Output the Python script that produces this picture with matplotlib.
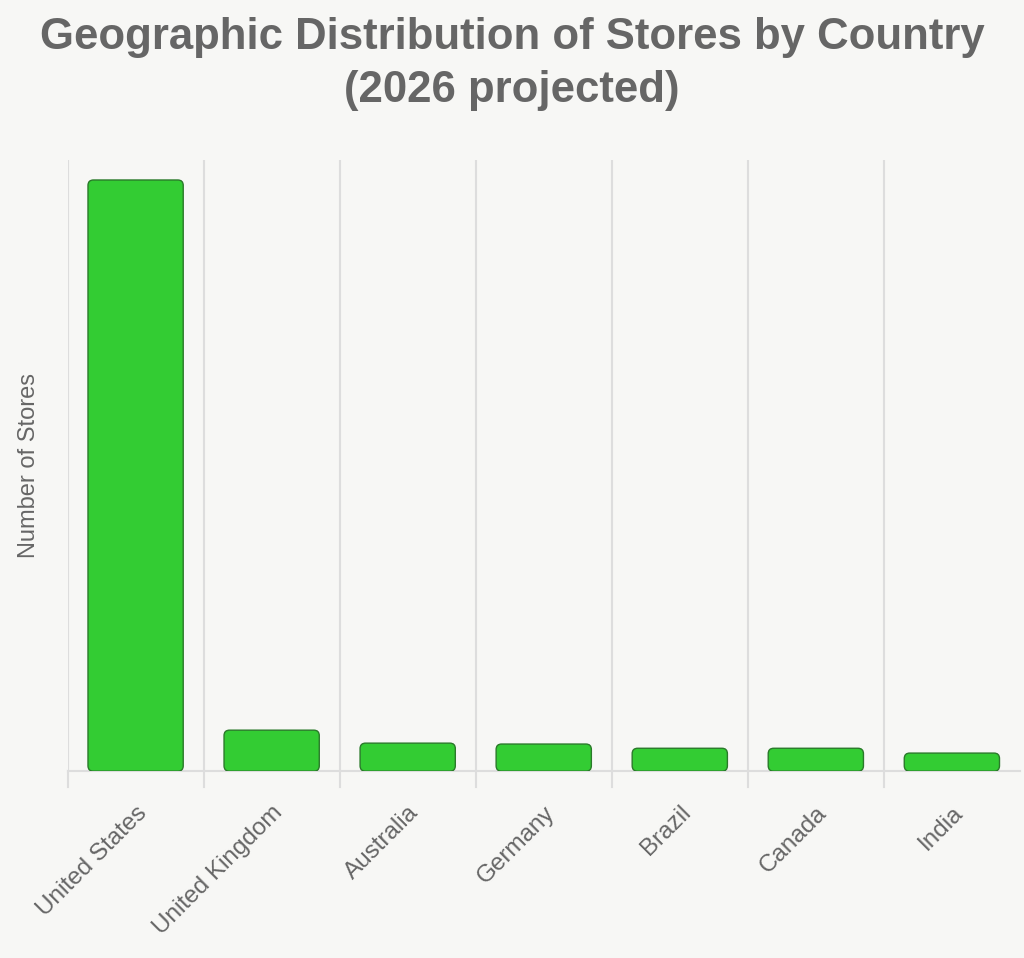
import matplotlib
matplotlib.use("Agg")
import matplotlib.pyplot as plt
from matplotlib.patches import FancyBboxPatch

plt.rcParams['font.family'] = ['Liberation Sans', 'DejaVu Sans']

countries = ["United States", "United Kingdom", "Australia", "Germany", "Brazil", "Canada", "India"]
stores = [9800, 680, 465, 450, 380, 380, 300]

bg = "#f7f7f5"
gray = "#666666"

fig = plt.figure(figsize=(10.24, 9.58), dpi=100, facecolor=bg)
ax = fig.add_axes([0.066, 0.195, 0.930, 0.638], facecolor=bg)

ymax = stores[0] * 611 / 591
ax.set_xlim(-0.5, len(countries) - 0.5)
ax.set_ylim(0, ymax)

# rounded bars
bars = ax.bar(range(len(countries)), stores, width=0.7, alpha=0)
aspect = (ymax / 611) / (1 / 136)
for b in bars:
    p = FancyBboxPatch((b.get_x(), 0), b.get_width(), b.get_height(),
                       boxstyle="round,pad=0,rounding_size=0.04",
                       mutation_aspect=aspect, facecolor="#33cc33",
                       edgecolor="#2a7a2a", linewidth=1, zorder=3)
    ax.add_patch(p)

# vertical grid lines at category boundaries
for i in range(len(countries)):
    ax.axvline(i - 0.5, color="#dddddd", linewidth=1.5, zorder=1)
    ax.plot([i - 0.5, i - 0.5], [0, -ymax * 16 / 611], color="#dddddd",
            linewidth=1.5, clip_on=False)

for s in ["top", "right", "left"]:
    ax.spines[s].set_visible(False)
ax.spines["bottom"].set_color("#dddddd")
ax.spines["bottom"].set_linewidth(1.5)

ax.set_yticks([])
ax.set_xticks(range(len(countries)))
ax.set_xticklabels(countries, rotation=45, ha="right", rotation_mode="anchor",
                   fontsize=17.5, color=gray)
ax.tick_params(axis="x", length=0, pad=22)
ax.set_ylabel("Number of Stores", fontsize=17, color=gray, labelpad=20)

fig.suptitle("Geographic Distribution of Stores by Country\n(2026 projected)",
             fontsize=31.5, fontweight="bold", color=gray, y=0.982,
             linespacing=1.38)

fig.savefig("out.png", dpi=100, facecolor=bg)
